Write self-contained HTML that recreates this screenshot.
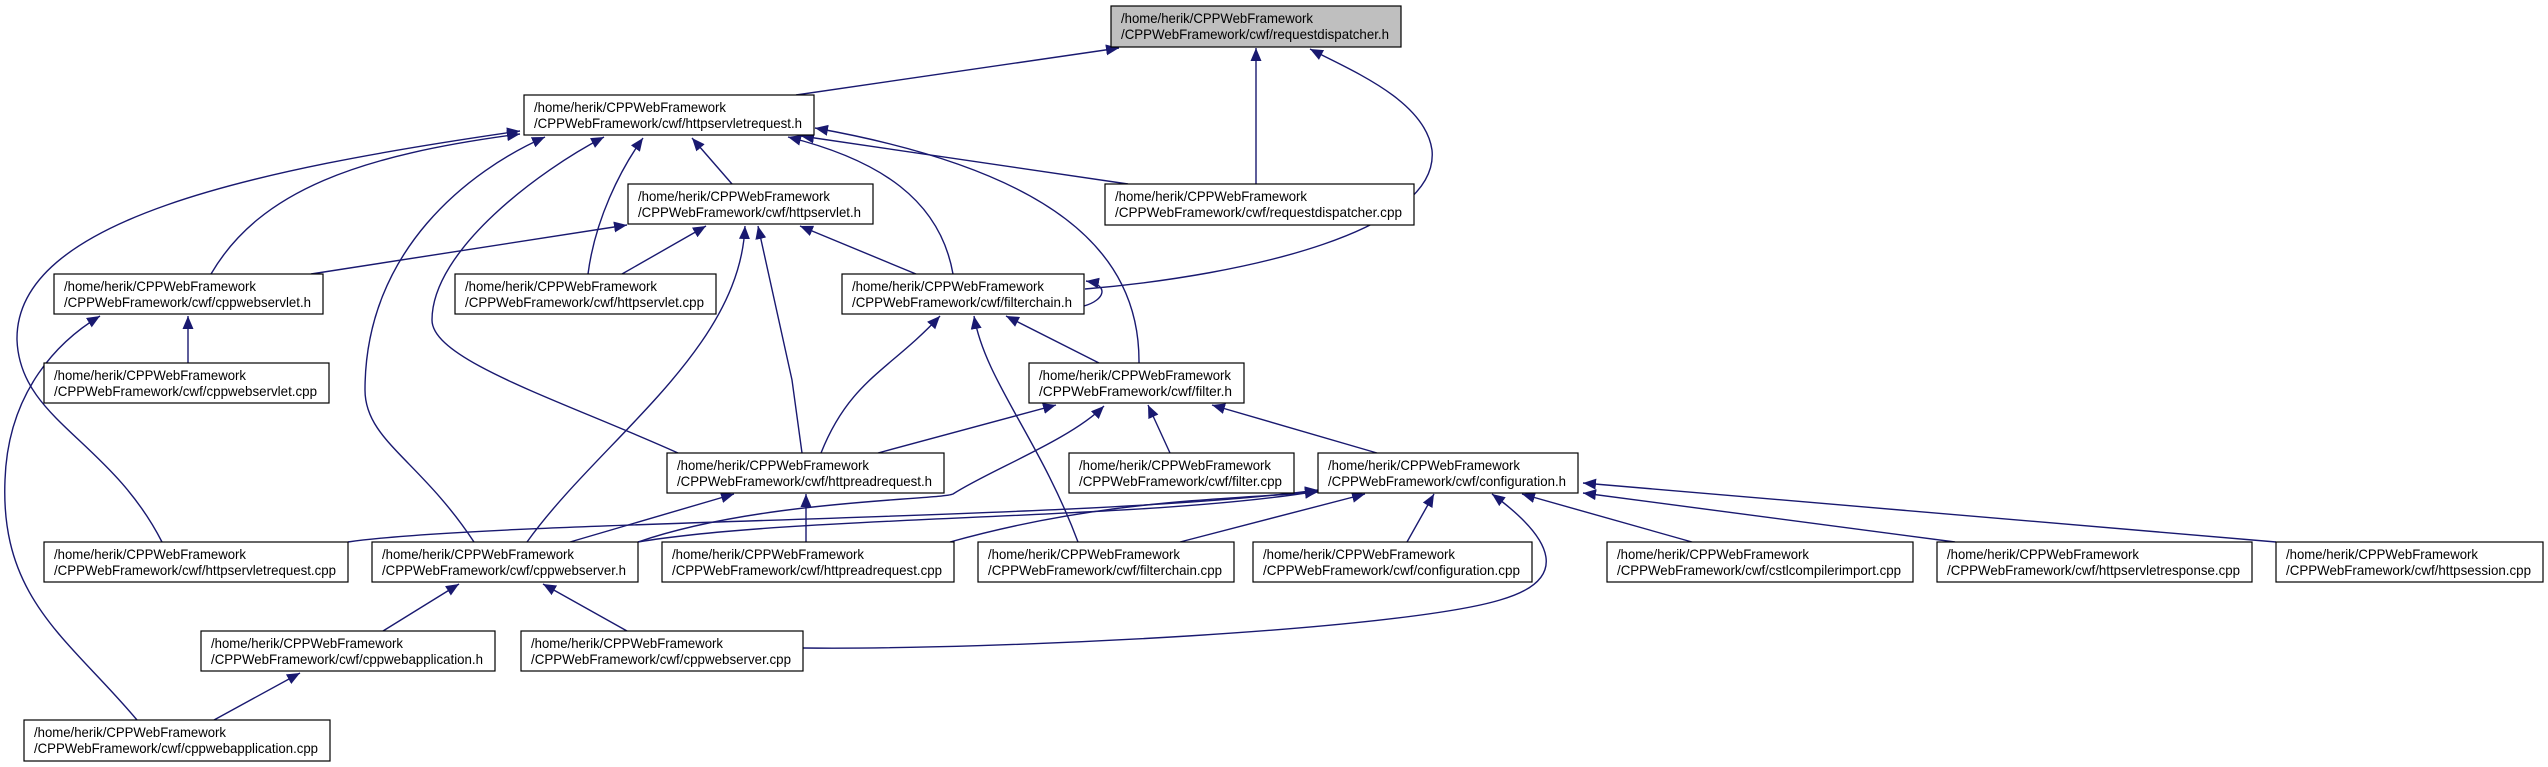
<!DOCTYPE html>
<html><head><meta charset="utf-8"><style>html,body{margin:0;padding:0;background:#fff}svg{display:block}</style></head><body>
<svg width="2548" height="767" viewBox="0 0 2548 767" xmlns="http://www.w3.org/2000/svg" font-family="'Liberation Sans', sans-serif" font-size="14">
<defs><marker id="a" markerUnits="userSpaceOnUse" markerWidth="14" markerHeight="12" refX="13" refY="6" orient="auto"><path d="M0,0.5 L13,6 L0,11.5 z" fill="#191970"/></marker></defs>
<g fill="none" stroke="#191970" stroke-width="1.4" marker-end="url(#a)">
<path d="M796,95 L1119,48"/>
<path d="M1256,184 L1256,48"/>
<path d="M1085,289 C1250,275 1440,230 1432,150 C1425,100 1350,70 1310,49"/>
<path d="M1128,184 L801,136"/>
<path d="M732,184 L692,138"/>
<path d="M588,274 C595,220 620,170 643,138"/>
<path d="M211,274 C260,190 360,155 520,134"/>
<path d="M162,542 C110,440 20,420 17,340 C15,220 250,170 520,131"/>
<path d="M137,720 C70,640 0,600 5,480 C8,390 60,340 100,316"/>
<path d="M474,542 C420,460 365,440 365,390 C365,250 470,170 545,137"/>
<path d="M678,453 C560,400 432,360 432,320 C432,250 540,170 604,137"/>
<path d="M953,274 C940,200 880,160 788,137"/>
<path d="M1139,363 C1140,250 1050,170 815,128"/>
<path d="M311,274 L627,225"/>
<path d="M622,274 L706,226"/>
<path d="M527,542 C600,440 740,350 745,226"/>
<path d="M802,453 L792,380 L758,226"/>
<path d="M916,274 L800,226"/>
<path d="M1084,306 C1105,300 1110,285 1086,281"/>
<path d="M821,453 C850,380 890,370 940,316"/>
<path d="M1078,542 C1040,440 985,380 974,316"/>
<path d="M1099,363 L1006,316"/>
<path d="M878,453 L1056,405"/>
<path d="M638,542 C760,500 940,500 953,494 C990,470 1070,440 1104,406"/>
<path d="M1170,453 L1148,405"/>
<path d="M1377,453 L1212,405"/>
<path d="M348,542 C500,520 1100,520 1318,490"/>
<path d="M638,542 C800,515 1150,520 1318,491"/>
<path d="M950,542 C1100,500 1220,500 1318,492"/>
<path d="M570,542 L734,494"/>
<path d="M806,542 L806,494"/>
<path d="M1180,542 L1365,494"/>
<path d="M1407,542 L1434,494"/>
<path d="M803,648 C1000,650 1400,630 1500,600 C1570,580 1555,540 1492,494"/>
<path d="M1692,542 L1522,494"/>
<path d="M1955,542 L1583,493"/>
<path d="M2276,542 L1583,483"/>
<path d="M383,631 L459,584"/>
<path d="M627,631 L543,584"/>
<path d="M214,720 L300,673"/>
<path d="M188,363 L188,316"/>
</g>
<g stroke="#000" stroke-width="1.2" fill="#fff">
<rect x="1111" y="6" width="290" height="41" fill="#bfbfbf"/>
<rect x="524" y="95" width="290" height="40"/>
<rect x="1105" y="184" width="309" height="41"/>
<rect x="628" y="184" width="245" height="40"/>
<rect x="54" y="274" width="269" height="40"/>
<rect x="455" y="274" width="261" height="40"/>
<rect x="842" y="274" width="242" height="40"/>
<rect x="44" y="363" width="285" height="40"/>
<rect x="1029" y="363" width="215" height="40"/>
<rect x="667" y="453" width="277" height="40"/>
<rect x="1069" y="453" width="225" height="40"/>
<rect x="1318" y="453" width="260" height="40"/>
<rect x="44" y="542" width="304" height="40"/>
<rect x="372" y="542" width="266" height="40"/>
<rect x="662" y="542" width="292" height="40"/>
<rect x="978" y="542" width="256" height="40"/>
<rect x="1253" y="542" width="279" height="40"/>
<rect x="1607" y="542" width="306" height="40"/>
<rect x="1937" y="542" width="315" height="40"/>
<rect x="2276" y="542" width="267" height="40"/>
<rect x="201" y="631" width="294" height="40"/>
<rect x="521" y="631" width="282" height="40"/>
<rect x="24" y="720" width="306" height="41"/>
</g>
<g fill="#000" lengthAdjust="spacingAndGlyphs">
<text x="1121" y="23" textLength="192" lengthAdjust="spacingAndGlyphs">/home/herik/CPPWebFramework</text><text x="1121" y="39" textLength="268" lengthAdjust="spacingAndGlyphs">/CPPWebFramework/cwf/requestdispatcher.h</text>
<text x="534" y="112" textLength="192" lengthAdjust="spacingAndGlyphs">/home/herik/CPPWebFramework</text><text x="534" y="128" textLength="268" lengthAdjust="spacingAndGlyphs">/CPPWebFramework/cwf/httpservletrequest.h</text>
<text x="1115" y="201" textLength="192" lengthAdjust="spacingAndGlyphs">/home/herik/CPPWebFramework</text><text x="1115" y="217" textLength="287" lengthAdjust="spacingAndGlyphs">/CPPWebFramework/cwf/requestdispatcher.cpp</text>
<text x="638" y="201" textLength="192" lengthAdjust="spacingAndGlyphs">/home/herik/CPPWebFramework</text><text x="638" y="217" textLength="223" lengthAdjust="spacingAndGlyphs">/CPPWebFramework/cwf/httpservlet.h</text>
<text x="64" y="291" textLength="192" lengthAdjust="spacingAndGlyphs">/home/herik/CPPWebFramework</text><text x="64" y="307" textLength="247" lengthAdjust="spacingAndGlyphs">/CPPWebFramework/cwf/cppwebservlet.h</text>
<text x="465" y="291" textLength="192" lengthAdjust="spacingAndGlyphs">/home/herik/CPPWebFramework</text><text x="465" y="307" textLength="239" lengthAdjust="spacingAndGlyphs">/CPPWebFramework/cwf/httpservlet.cpp</text>
<text x="852" y="291" textLength="192" lengthAdjust="spacingAndGlyphs">/home/herik/CPPWebFramework</text><text x="852" y="307" textLength="220" lengthAdjust="spacingAndGlyphs">/CPPWebFramework/cwf/filterchain.h</text>
<text x="54" y="380" textLength="192" lengthAdjust="spacingAndGlyphs">/home/herik/CPPWebFramework</text><text x="54" y="396" textLength="263" lengthAdjust="spacingAndGlyphs">/CPPWebFramework/cwf/cppwebservlet.cpp</text>
<text x="1039" y="380" textLength="192" lengthAdjust="spacingAndGlyphs">/home/herik/CPPWebFramework</text><text x="1039" y="396" textLength="193" lengthAdjust="spacingAndGlyphs">/CPPWebFramework/cwf/filter.h</text>
<text x="677" y="470" textLength="192" lengthAdjust="spacingAndGlyphs">/home/herik/CPPWebFramework</text><text x="677" y="486" textLength="255" lengthAdjust="spacingAndGlyphs">/CPPWebFramework/cwf/httpreadrequest.h</text>
<text x="1079" y="470" textLength="192" lengthAdjust="spacingAndGlyphs">/home/herik/CPPWebFramework</text><text x="1079" y="486" textLength="203" lengthAdjust="spacingAndGlyphs">/CPPWebFramework/cwf/filter.cpp</text>
<text x="1328" y="470" textLength="192" lengthAdjust="spacingAndGlyphs">/home/herik/CPPWebFramework</text><text x="1328" y="486" textLength="238" lengthAdjust="spacingAndGlyphs">/CPPWebFramework/cwf/configuration.h</text>
<text x="54" y="559" textLength="192" lengthAdjust="spacingAndGlyphs">/home/herik/CPPWebFramework</text><text x="54" y="575" textLength="282" lengthAdjust="spacingAndGlyphs">/CPPWebFramework/cwf/httpservletrequest.cpp</text>
<text x="382" y="559" textLength="192" lengthAdjust="spacingAndGlyphs">/home/herik/CPPWebFramework</text><text x="382" y="575" textLength="244" lengthAdjust="spacingAndGlyphs">/CPPWebFramework/cwf/cppwebserver.h</text>
<text x="672" y="559" textLength="192" lengthAdjust="spacingAndGlyphs">/home/herik/CPPWebFramework</text><text x="672" y="575" textLength="270" lengthAdjust="spacingAndGlyphs">/CPPWebFramework/cwf/httpreadrequest.cpp</text>
<text x="988" y="559" textLength="192" lengthAdjust="spacingAndGlyphs">/home/herik/CPPWebFramework</text><text x="988" y="575" textLength="234" lengthAdjust="spacingAndGlyphs">/CPPWebFramework/cwf/filterchain.cpp</text>
<text x="1263" y="559" textLength="192" lengthAdjust="spacingAndGlyphs">/home/herik/CPPWebFramework</text><text x="1263" y="575" textLength="257" lengthAdjust="spacingAndGlyphs">/CPPWebFramework/cwf/configuration.cpp</text>
<text x="1617" y="559" textLength="192" lengthAdjust="spacingAndGlyphs">/home/herik/CPPWebFramework</text><text x="1617" y="575" textLength="284" lengthAdjust="spacingAndGlyphs">/CPPWebFramework/cwf/cstlcompilerimport.cpp</text>
<text x="1947" y="559" textLength="192" lengthAdjust="spacingAndGlyphs">/home/herik/CPPWebFramework</text><text x="1947" y="575" textLength="293" lengthAdjust="spacingAndGlyphs">/CPPWebFramework/cwf/httpservletresponse.cpp</text>
<text x="2286" y="559" textLength="192" lengthAdjust="spacingAndGlyphs">/home/herik/CPPWebFramework</text><text x="2286" y="575" textLength="245" lengthAdjust="spacingAndGlyphs">/CPPWebFramework/cwf/httpsession.cpp</text>
<text x="211" y="648" textLength="192" lengthAdjust="spacingAndGlyphs">/home/herik/CPPWebFramework</text><text x="211" y="664" textLength="272" lengthAdjust="spacingAndGlyphs">/CPPWebFramework/cwf/cppwebapplication.h</text>
<text x="531" y="648" textLength="192" lengthAdjust="spacingAndGlyphs">/home/herik/CPPWebFramework</text><text x="531" y="664" textLength="260" lengthAdjust="spacingAndGlyphs">/CPPWebFramework/cwf/cppwebserver.cpp</text>
<text x="34" y="737" textLength="192" lengthAdjust="spacingAndGlyphs">/home/herik/CPPWebFramework</text><text x="34" y="753" textLength="284" lengthAdjust="spacingAndGlyphs">/CPPWebFramework/cwf/cppwebapplication.cpp</text>
</g>
</svg>
</body></html>
